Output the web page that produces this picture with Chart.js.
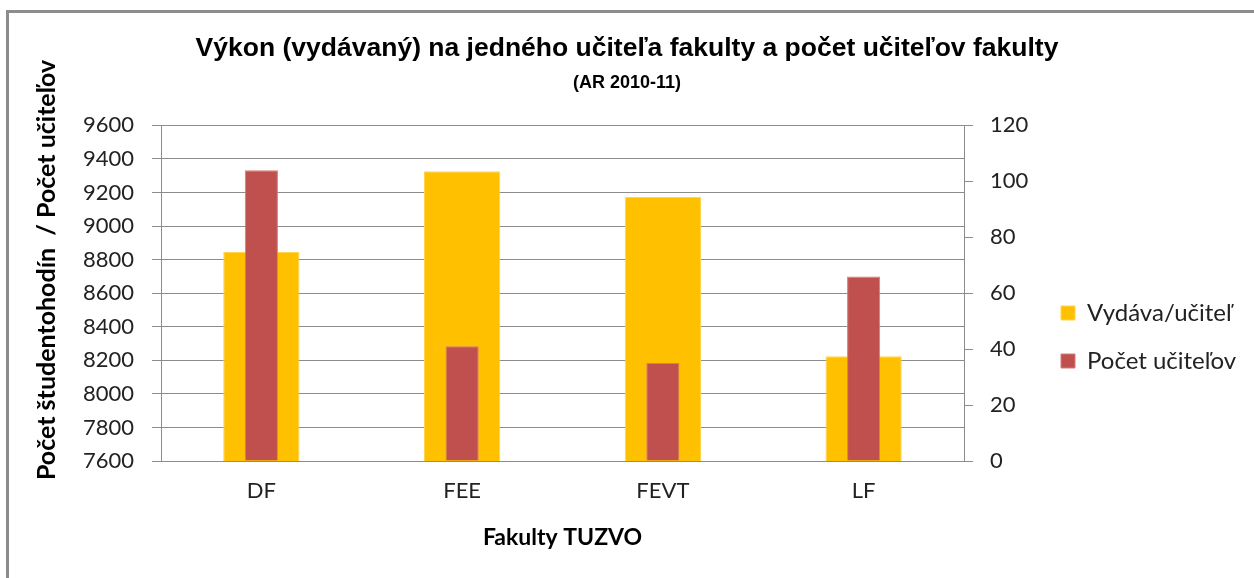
<!DOCTYPE html>
<html>
<head>
<meta charset="utf-8">
<script src="https://cdn.jsdelivr.net/npm/chart.js@4/dist/chart.umd.min.js"></script>
<style>
  html, body { margin: 0; padding: 0; background: #fff; overflow: hidden; }
  #wrap { position: relative; width: 1254px; height: 578px; }
  #frame { position: absolute; left: 6px; top: 10px; width: 1300px; height: 600px;
           border-top: 3px solid #8c8c8c; border-left: 3px solid #8c8c8c; }
  #wrap canvas { position: absolute; left: 0; top: 0; }
</style>
</head>
<body>
<div id="wrap">
  <div id="frame"></div>
  <canvas id="graf"></canvas>
</div>
<script>
// Dáta odčítané z grafu
const fakulty = ['DF', 'FEE', 'FEVT', 'LF'];
const vydavaUcitel = [8845, 9327, 9173, 8224];
const pocetUcitelov = [104, 41, 35, 66];

const nazov = 'Výkon (vydávaný) na jedného učiteľa fakulty a počet učiteľov fakulty';
const podnazov = '(AR 2010-11)';
const osY = 'Počet študentohodín  / Počet učiteľov';
const osX = 'Fakulty TUZVO';

const pismo = "Lato, 'Open Sans', sans-serif";
const siva = '#8c8c8c';

// rotovaný popis ľavej osi (v Exceli nie je vycentrovaný na plochu grafu)
const popisOsiY = {
  id: 'popisOsiY',
  afterDraw(chart) {
    const c = chart.ctx;
    c.save();
    c.translate(47, 270);
    c.rotate(-Math.PI / 2);
    c.font = "bold 25px " + pismo;
    c.fillStyle = '#000';
    c.textAlign = 'center';
    c.textBaseline = 'middle';
    c.fillText(osY, 0, 0);
    c.restore();
  }
};

// legenda vpravo - pevná šírka a posun nadol
const legendaVpravo = {
  id: 'legendaVpravo',
  beforeLayout(chart) {
    const lg = chart.legend;
    if (lg && !lg._upravena) {
      const povodny = lg.fit.bind(lg);
      lg.fit = function () { povodny(); this.width = 217; };
      lg._upravena = true;
    }
  },
  afterLayout(chart) {
    if (chart.legend) chart.legend.top += 96;
  }
};

new Chart(document.getElementById('graf'), {
  type: 'bar',
  data: {
    labels: fakulty,
    datasets: [{
      label: 'Vydáva/učiteľ',
      data: vydavaUcitel,
      yAxisID: 'y',
      backgroundColor: '#FFC000',
      borderColor: '#FFD54F',
      borderWidth: 1,
      barPercentage: 0.38,
      categoryPercentage: 1,
      grouped: false,
      order: 1
    }, {
      label: 'Počet učiteľov',
      data: pocetUcitelov,
      yAxisID: 'y1',
      backgroundColor: '#C0504D',
      borderColor: '#D47C79',
      borderWidth: 1,
      barPercentage: 0.165,
      categoryPercentage: 1,
      grouped: false,
      order: 0
    }]
  },
  options: {
    responsive: true,
    maintainAspectRatio: false,
    animation: false,
    layout: { padding: { left: 0, right: 0, top: 0, bottom: 0 } },
    plugins: {
      title: {
        display: true,
        text: nazov,
        color: '#000',
        font: { family: "'Liberation Sans', Arial, sans-serif", size: 26.5, weight: 'bold' },
        padding: { top: 33, bottom: 4 }
      },
      subtitle: {
        display: true,
        text: podnazov,
        color: '#000',
        font: { family: "'Liberation Sans', Arial, sans-serif", size: 18, weight: 'bold' },
        padding: { top: 3, bottom: 32 }
      },
      legend: {
        position: 'right',
        labels: {
          sort: (a, b) => a.datasetIndex - b.datasetIndex,
          boxWidth: 14,
          boxHeight: 14,
          padding: 24,
          color: '#222',
          font: { family: pismo, size: 24 }
        }
      },
      tooltip: { enabled: false }
    },
    scales: {
      x: {
        grid: { display: false, drawTicks: false },
        border: { display: true, color: siva },
        ticks: { color: '#222', padding: 17, font: { family: pismo, size: 22 } },
        title: {
          display: true,
          text: osX,
          color: '#000',
          font: { family: pismo, size: 23, weight: 'bold' },
          padding: { top: 0, bottom: 27 }
        },
        afterFit(s) { s.height = 117; }
      },
      y: {
        position: 'left',
        min: 7600,
        max: 9600,
        ticks: {
          stepSize: 200, color: '#222', padding: 18, font: { family: pismo, size: 22 },
          callback: v => String(v)
        },
        grid: { color: siva, tickLength: 9 },
        border: { display: true, color: siva },
        afterFit(s) { s.width = 161; }
      },
      y1: {
        position: 'right',
        min: 0,
        max: 120,
        ticks: {
          stepSize: 20, color: '#222', padding: 17, font: { family: pismo, size: 22 },
          callback: v => String(v)
        },
        grid: { drawOnChartArea: false, color: siva, tickLength: 9 },
        border: { display: true, color: siva },
        afterFit(s) { s.width = 73; }
      }
    }
  },
  plugins: [popisOsiY, legendaVpravo]
});
</script>
</body>
</html>
